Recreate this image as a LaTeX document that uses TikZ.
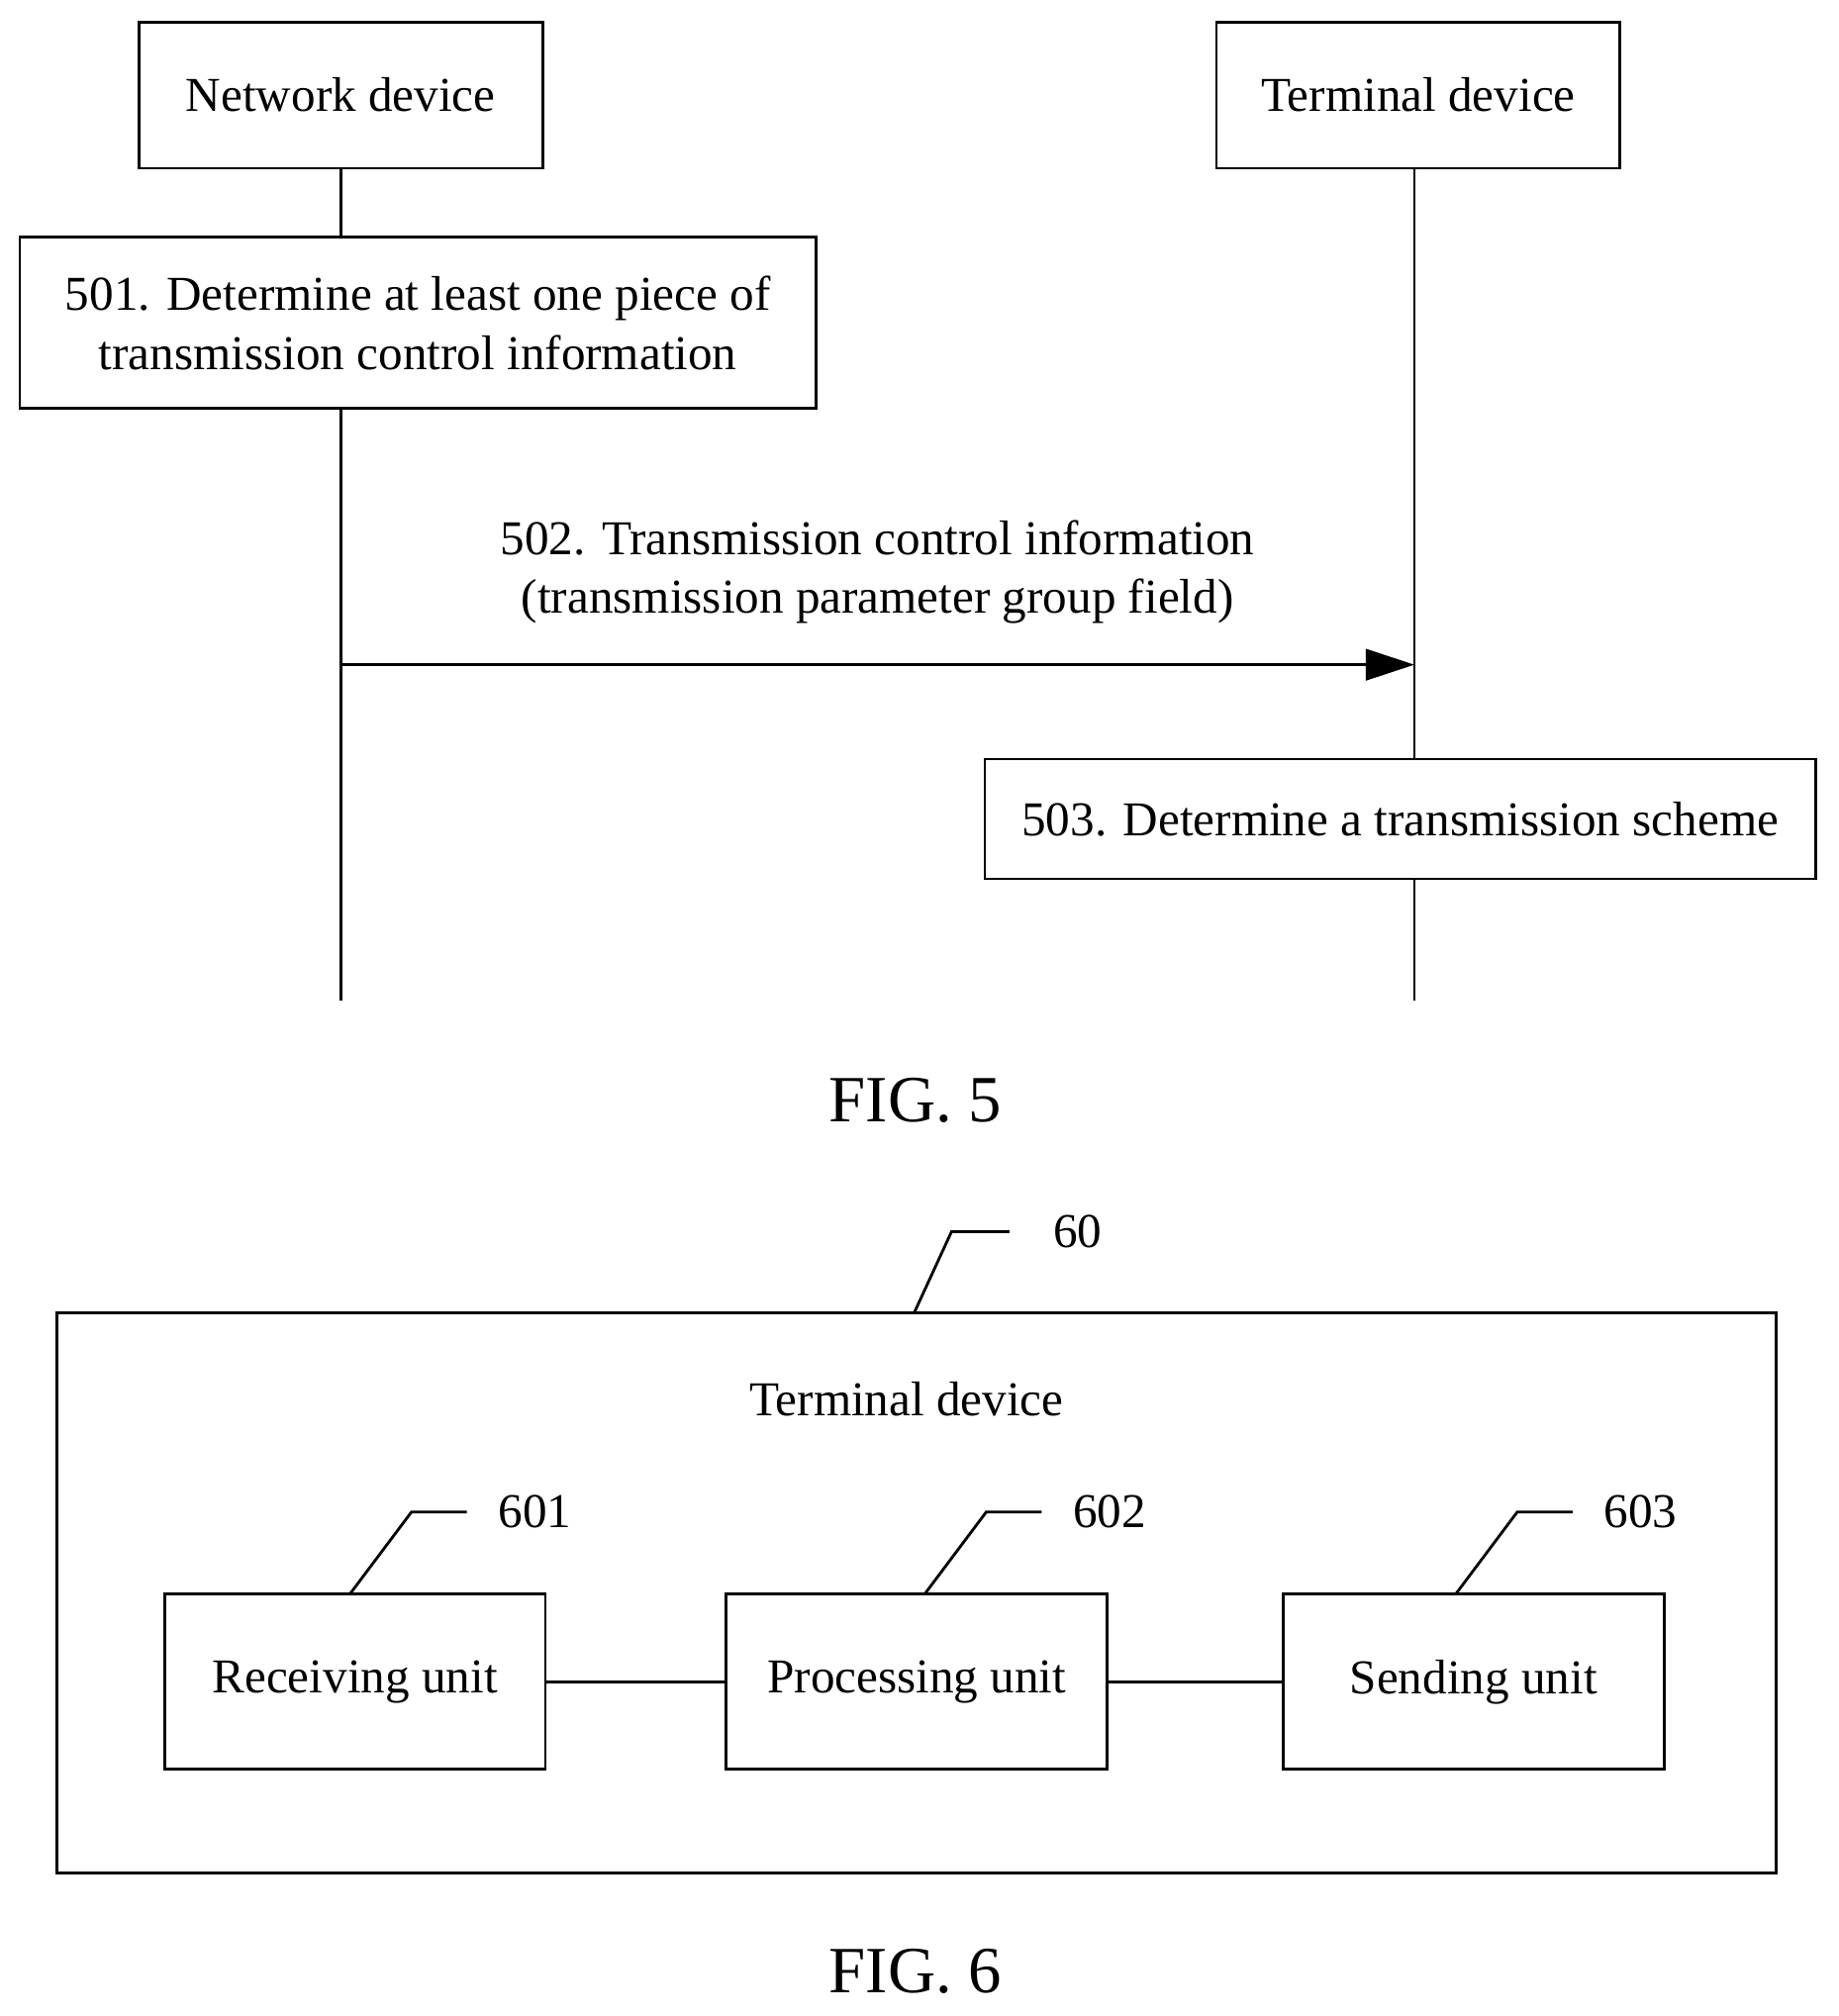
\documentclass[tikz,border=0pt]{standalone}
\usepackage{fontspec}
\setmainfont{Liberation Serif}
\usetikzlibrary{arrows.meta}
\begin{document}
\begin{tikzpicture}[x=0.013cm, y=-0.013cm, font=\fontsize{14}{17}\selectfont,
    box/.style={shape=rectangle, draw=black, line width=0.8pt, align=center},
    unit/.style={box, minimum width=3.85cm, minimum height=1.77cm},
    line/.style={line width=0.8pt}]
    \useasboundingbox (0,0) rectangle (1430,1568);
    % FIG. 5
    \node[box, minimum width=4.08cm, minimum height=1.48cm] at (265,74) (ND) {Network device};
    \node[box, minimum width=4.08cm, minimum height=1.48cm] at (1103,74) (TD) {Terminal device};
    \coordinate (NDend) at (265,778);
    \coordinate (TDend) at (1100,778);
    \node[box, minimum width=8.05cm, minimum height=1.73cm] at (325,251) (S501) {501. Determine at least one piece of\\transmission control information};
    \node[box, minimum width=8.40cm, minimum height=1.21cm] at (1089,637) (S503) {503. Determine a transmission scheme};
    \draw[line] (ND.south) -- (S501.north -| NDend);
    \draw[line] (S501.south -| NDend) -- (NDend);
    \draw[line] (TD.south -| TDend) -- (S503.north -| TDend);
    \draw[line] (S503.south -| TDend) -- (TDend);
    \coordinate (A0) at (265,517);
    \coordinate (A1) at (1100,517);
    \draw[line, -{Triangle[length=14pt, width=9pt]}] (A0) -- node[above=8pt, align=center] {502. Transmission control information\\(transmission parameter group field)} (A1);
    \node[font=\fontsize{19}{22}\selectfont] at (712,856) (F5) {FIG. 5};
    % FIG. 6
    \node[box, minimum width=17.38cm, minimum height=5.66cm] at (713,1239) (TD6) {};
    \node at (705,1088) (TDlabel) {Terminal device};
    \node[unit] at (276,1308) (RU) {Receiving unit};
    \node[unit] at (713,1308) (PU) {Processing unit};
    \node[unit] at (1146,1308) (SU) {Sending unit};
    \draw[line] (RU) -- (PU);
    \draw[line] (PU) -- (SU);
    \node at (838,958) (L60) {60};
    \draw[line] (711,1021) -- (740,958) -- (785,958);
    \foreach \n/\x in {601/272, 602/719, 603/1132} {
        \draw[line] (\x,1240) -- (\x+48,1176) -- (\x+91,1176);
        \node at (\x+144,1176) (L\n) {\n};
    }
    \node[font=\fontsize{19}{22}\selectfont] at (712,1533) (F6) {FIG. 6};
\end{tikzpicture}
\end{document}
